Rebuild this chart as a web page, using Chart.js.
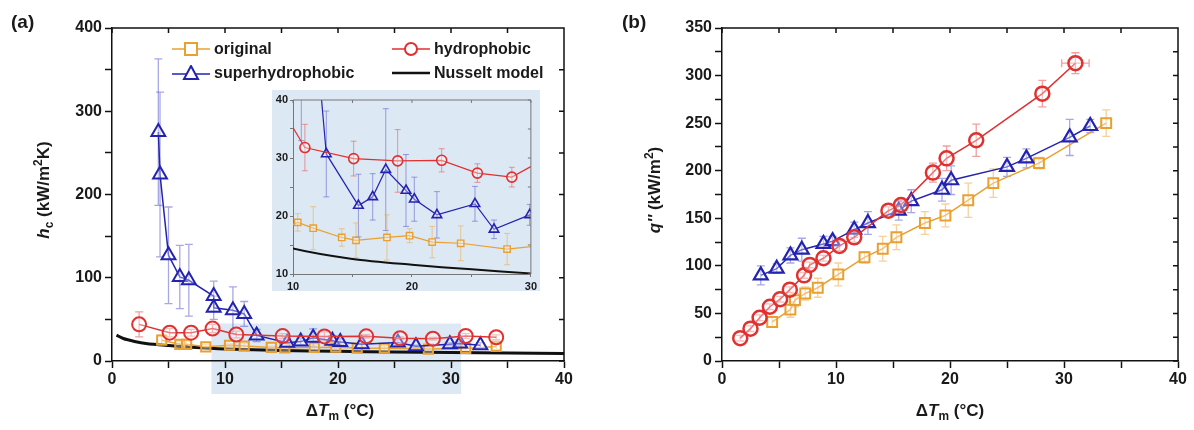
<!DOCTYPE html>
<html>
<head>
<meta charset="utf-8">
<script src="https://cdn.jsdelivr.net/npm/chart.js@4/dist/chart.umd.min.js"></script>
<style>
  body { margin: 0; background: #fff; font-family: "Liberation Sans", Arial, sans-serif; }
  #wrap { position: relative; width: 1194px; height: 430px; overflow: hidden; }
  canvas { position: absolute; }
  .lbl { position: absolute; font-weight: bold; color: #1a1a1a; white-space: nowrap; }
  .lbl sub, .lbl sup { font-size: 70%; line-height: 0; }
  .ytitle { transform: translate(-50%, -50%) rotate(-90deg); font-size: 17px; }
  .xtitle { transform: translate(-50%, -50%); font-size: 17px; }
  .leg { position: absolute; font-weight: bold; font-size: 16px; color: #1a1a1a; display: flex; align-items: center; white-space: nowrap; }
  .leg svg { margin-right: 4px; }
</style>
</head>
<body>
<div id="wrap">
  <canvas id="chart_a" width="597" height="430" style="left:0;top:0"></canvas>
  <canvas id="chart_b" width="597" height="430" style="left:597px;top:0"></canvas>
  <canvas id="chart_inset" width="268" height="201" style="left:272px;top:90px;z-index:2"></canvas>

  <div class="lbl" style="left:11px;top:11px;font-size:19px">(a)</div>
  <div class="lbl" style="left:622px;top:11px;font-size:19px">(b)</div>

  <div class="lbl ytitle" style="left:44px;top:190px"><i>h</i><sub>c</sub> (kW/m<sup>2</sup>K)</div>
  <div class="lbl ytitle" style="left:655px;top:190px"><i>q''</i> (kW/m<sup>2</sup>)</div>
  <div class="lbl xtitle" style="left:340px;top:411px">Δ<i>T</i><sub>m</sub> (°C)</div>
  <div class="lbl xtitle" style="left:950px;top:411px">Δ<i>T</i><sub>m</sub> (°C)</div>

  <div class="leg" style="left:172px;top:40px">
    <svg width="38" height="16"><line x1="0" y1="8" x2="38" y2="8" stroke="#e9a030" stroke-width="1.5"/><rect x="13" y="2" width="12" height="12" fill="#fff" stroke="#e9a030" stroke-width="2"/></svg>original</div>
  <div class="leg" style="left:172px;top:64px">
    <svg width="38" height="16"><line x1="0" y1="9" x2="38" y2="9" stroke="#2323b0" stroke-width="1.5"/><polygon points="19,1 26,14 12,14" fill="#fff" stroke="#2323b0" stroke-width="2"/></svg>superhydrophobic</div>
  <div class="leg" style="left:392px;top:40px">
    <svg width="38" height="16"><line x1="0" y1="8" x2="38" y2="8" stroke="#e03030" stroke-width="1.5"/><circle cx="19" cy="8" r="6" fill="#fff" stroke="#e03030" stroke-width="2"/></svg>hydrophobic</div>
  <div class="leg" style="left:392px;top:64px">
    <svg width="38" height="16"><line x1="0" y1="8" x2="38" y2="8" stroke="#111" stroke-width="2.5"/></svg>Nusselt model</div>
</div>

<script>
// ---- panel (a): condensation heat transfer coefficient h_c vs ΔT_m ----
const aOrigX  = [4.4, 6.0, 6.6, 8.3, 10.4, 11.7, 14.1, 15.3, 17.9, 19.8, 21.7, 24.1, 28.0, 31.3, 34.0];
const aOrigY  = [25, 20, 20, 17, 18.9, 17.9, 16.3, 15.8, 16.3, 16.6, 15.5, 15.3, 14.3, 15.0, 17.5];
const aOrigE  = [6, 4, 4, 3, 1.5, 3.7, 1.5, 3, 3.9, 1.2, 2.7, 3, 2.7, 3, 4];

const aHydroX = [2.4, 5.1, 7.0, 8.9, 11.0, 15.1, 18.8, 22.5, 25.5, 28.4, 31.3, 34.0];
const aHydroY = [44, 34, 34, 39, 31.8, 29.9, 29.5, 29.6, 27.4, 26.7, 30, 28.5];
const aHydroE = [15, 5, 4, 5, 4, 3, 5.4, 2, 1.6, 1.7, 3, 3];

const aSuperX = [4.1, 4.25, 5.0, 6.0, 6.8, 9.0, 9.0, 10.7, 11.7, 12.8, 15.5, 16.7, 17.8, 19.5, 20.2, 22.1, 25.3, 26.9, 29.9, 30.8, 32.6];
const aSuperY = [275, 224, 127, 101, 97, 78, 64, 61, 56.5, 30.7, 21.8, 23.3, 28, 24.4, 22.9, 20.2, 22.1, 17.7, 20.2, 21, 19];
const aSuperE = [88, 99, 58, 38, 43, 18, 14, 28, 15, 7.4, 5.4, 4, 10.5, 6.2, 3.8, 4, 3, 1.6, 1.8, 2, 3];

const nuX = [0.4, 1, 2, 3, 5, 7, 10, 15, 20, 25, 30, 35, 40];
const nuY = [31, 27, 23.5, 21, 18.5, 16.5, 14.4, 12.6, 11.6, 10.8, 10.1, 9.5, 9.0];

// ---- panel (b): heat flux q'' vs ΔT_m ----
const bOrigX  = [4.4, 6.0, 6.4, 7.3, 8.4, 10.2, 12.5, 14.1, 15.3, 17.8, 19.6, 21.6, 23.8, 27.8, 33.7];
const bOrigY  = [41, 54, 64, 71, 77, 91, 109, 118, 130, 145, 153, 169, 187, 208, 250];
const bOrigE  = [5, 8, 7, 7, 10, 12, 6, 13, 13, 12, 12, 18, 15, 6, 14];

const bHydroX = [1.6, 2.5, 3.3, 4.2, 5.1, 5.95, 7.2, 7.7, 8.9, 10.3, 11.6, 14.6, 15.7, 18.5, 19.7, 22.3, 28.1, 31.0];
const bHydroY = [24, 34, 45.5, 57, 65, 75, 90, 101, 108, 121, 130, 158, 164, 198, 213, 232, 281, 313];
const bHydroE = [3, 3, 3, 3, 3, 3, 3, 3, 3, 5, 5, 4, 5, 10, 13, 17, 14, 11];
const bHydroXE = [0, 0, 0, 0, 0, 0, 0, 0, 0, 0, 0, 0, 0, 0, 0, 0, 0, 1.2];

const bSuperX = [3.4, 4.8, 6.0, 7.0, 8.9, 9.7, 11.6, 12.8, 15.5, 16.6, 19.3, 20.1, 25.0, 26.7, 30.5, 32.3];
const bSuperY = [90, 97, 111, 117, 123, 126, 138, 145, 158, 168, 180, 190, 204, 213, 235, 247];
const bSuperE = [10, 5, 8, 12, 8, 5, 8, 12, 10, 12, 12, 15, 10, 10, 19, 7];

const ORANGE = "#e9a030", RED = "#e03030", BLUE = "#2323b0";
const ORANGE_ERR = "rgba(236,170,70,0.55)", RED_ERR = "rgba(230,80,80,0.55)", BLUE_ERR = "rgba(60,60,200,0.45)";
const SHADE = "#dce8f4";
const FONT = "'Liberation Sans', Arial, sans-serif";

const pts = (xs, ys) => xs.map((x, i) => ({ x, y: ys[i] }));

// vertical (and optional horizontal) error bars, drawn under the markers
const errorBars = {
  id: "errorBars",
  beforeDatasetsDraw(chart, args, opts) {
    const { ctx, chartArea: a, scales: { x, y } } = chart;
    ctx.save();
    ctx.beginPath(); ctx.rect(a.left, a.top, a.width, a.height); ctx.clip();
    chart.data.datasets.forEach((ds) => {
      if (!ds.yErr) return;
      ctx.strokeStyle = ds.errColor;
      ctx.lineWidth = opts.width || 1.2;
      const cap = opts.cap || 4;
      ds.data.forEach((p, i) => {
        const px = x.getPixelForValue(p.x), py = y.getPixelForValue(p.y);
        const y1 = y.getPixelForValue(p.y + ds.yErr[i]), y2 = y.getPixelForValue(p.y - ds.yErr[i]);
        ctx.beginPath();
        ctx.moveTo(px, y1); ctx.lineTo(px, y2);
        ctx.moveTo(px - cap, y1); ctx.lineTo(px + cap, y1);
        ctx.moveTo(px - cap, y2); ctx.lineTo(px + cap, y2);
        if (ds.xErr && ds.xErr[i]) {
          const x1 = x.getPixelForValue(p.x - ds.xErr[i]), x2 = x.getPixelForValue(p.x + ds.xErr[i]);
          ctx.moveTo(x1, py); ctx.lineTo(x2, py);
          ctx.moveTo(x1, py - cap); ctx.lineTo(x1, py + cap);
          ctx.moveTo(x2, py - cap); ctx.lineTo(x2, py + cap);
        }
        ctx.stroke();
      });
    });
    ctx.restore();
  },
};

// top / right frame with inward ticks
const frame = {
  id: "frame",
  afterDatasetsDraw(chart, args, opts) {
    const { ctx, chartArea: a, scales: { x, y } } = chart;
    ctx.save();
    ctx.strokeStyle = opts.color || "#111";
    ctx.lineWidth = opts.width || 1.5;
    ctx.beginPath();
    ctx.moveTo(a.left, a.top); ctx.lineTo(a.right, a.top); ctx.lineTo(a.right, a.bottom);
    const len = opts.len || 5;
    x.ticks.forEach((t) => { const px = x.getPixelForValue(t.value); ctx.moveTo(px, a.top); ctx.lineTo(px, a.top + len); });
    y.ticks.forEach((t) => { const py = y.getPixelForValue(t.value); ctx.moveTo(a.right, py); ctx.lineTo(a.right - len, py); });
    ctx.stroke();
    ctx.restore();
  },
};

// background + highlighted zoom window in panel (a)
const background = {
  id: "background",
  beforeDraw(chart, args, opts) {
    const { ctx, width, height, scales: { x, y } } = chart;
    ctx.save();
    ctx.fillStyle = opts.color || "#fff";
    ctx.fillRect(0, 0, width, height);
    if (opts.zoomX) {
      const l = x.getPixelForValue(opts.zoomX[0]), r = x.getPixelForValue(opts.zoomX[1]);
      const t = y.getPixelForValue(opts.zoomTop);
      ctx.fillStyle = SHADE;
      ctx.fillRect(l, t, r - l, opts.zoomBottomPx - t);
    }
    ctx.restore();
  },
};

function series(label, xs, ys, errs, color, errColor, style, radius, extra) {
  return Object.assign({
    label, data: pts(xs, ys), yErr: errs, errColor,
    showLine: true, borderColor: color, borderWidth: 1.5,
    pointStyle: style, pointRadius: radius,
    pointBorderColor: color, pointBackgroundColor: "rgba(255,255,255,0.35)", pointBorderWidth: 2,
  }, extra || {});
}

function axes(xMax, yMax, yStep, yLabelStep, fontSize, xWidthFix, yWidthFix, tickLen) {
  const font = { family: FONT, size: fontSize, weight: "bold" };
  return {
    x: {
      type: "linear", min: xMax[0], max: xMax[1],
      border: { color: "#111", width: 1.5 },
      grid: { drawOnChartArea: false, tickLength: tickLen, tickColor: "#111", tickWidth: 1.5 },
      ticks: { stepSize: 5, color: "#1a1a1a", font, padding: 2, maxRotation: 0,
        callback: (v) => (v % 10 === 0 ? v : "") },
      afterFit: (s) => { s.height = xWidthFix; },
    },
    y: {
      type: "linear", min: yMax[0], max: yMax[1],
      border: { color: "#111", width: 1.5 },
      grid: { drawOnChartArea: false, tickLength: tickLen, tickColor: "#111", tickWidth: 1.5 },
      ticks: { stepSize: yStep, color: "#1a1a1a", font, padding: 3,
        callback: (v) => (v % yLabelStep === 0 ? v : "") },
      afterFit: (s) => { s.width = yWidthFix; },
    },
  };
}

// ---- chart (a) ----
new Chart(document.getElementById("chart_a"), {
  type: "scatter",
  data: {
    datasets: [
      series("hydrophobic", aHydroX, aHydroY, aHydroE, RED, RED_ERR, "circle", 7),
      series("superhydrophobic", aSuperX, aSuperY, aSuperE, BLUE, BLUE_ERR, "triangle", 8),
      series("original", aOrigX, aOrigY, aOrigE, ORANGE, ORANGE_ERR, "rect", 6.5),
      { label: "Nusselt model", data: pts(nuX, nuY), showLine: true, borderColor: "#111", borderWidth: 3, pointRadius: 0, tension: 0.3 },
    ],
  },
  options: {
    responsive: false, animation: false,
    layout: { padding: { left: 0, top: 28, right: 33, bottom: 0 } },
    plugins: {
      legend: { display: false }, tooltip: { enabled: false },
      errorBars: { cap: 4, width: 1.3 },
      frame: { len: 5 },
      background: { zoomX: [8.8, 30.9], zoomTop: 45, zoomBottomPx: 394 },
    },
    scales: axes([0, 40], [0, 400], 50, 100, 16, 69, 112, 7),
  },
  plugins: [background, errorBars, frame],
});

// ---- inset of (a) ----
new Chart(document.getElementById("chart_inset"), {
  type: "scatter",
  data: {
    datasets: [
      series("hydrophobic", aHydroX, aHydroY, aHydroE, RED, RED_ERR, "circle", 5, { borderWidth: 1.2, pointBorderWidth: 1.6 }),
      series("superhydrophobic", aSuperX, aSuperY, aSuperE, BLUE, BLUE_ERR, "triangle", 5.5, { borderWidth: 1.2, pointBorderWidth: 1.6 }),
      series("original", aOrigX, aOrigY, aOrigE, ORANGE, ORANGE_ERR, "rect", 4.5, { borderWidth: 1.2, pointBorderWidth: 1.4 }),
      { label: "Nusselt model", data: pts(nuX, nuY), showLine: true, borderColor: "#111", borderWidth: 2, pointRadius: 0, tension: 0.3 },
    ],
  },
  options: {
    responsive: false, animation: false,
    layout: { padding: { left: 0, top: 10, right: 8, bottom: 0 } },
    plugins: {
      legend: { display: false }, tooltip: { enabled: false },
      errorBars: { cap: 3, width: 1 },
      frame: { len: 3, width: 1, color: "#777" },
      background: { color: SHADE },
    },
    scales: (() => {
      const s = axes([10, 30], [10, 40], 5, 10, 11, 17, 21, 3);
      s.x.border = { color: "#777", width: 1 }; s.y.border = { color: "#777", width: 1 };
      s.x.grid.tickColor = "#777"; s.y.grid.tickColor = "#777";
      s.x.grid.tickWidth = 1; s.y.grid.tickWidth = 1;
      s.x.ticks.padding = 3; s.y.ticks.padding = 2;
      return s;
    })(),
  },
  plugins: [background, errorBars, frame],
});

// ---- chart (b) ----
new Chart(document.getElementById("chart_b"), {
  type: "scatter",
  data: {
    datasets: [
      series("hydrophobic", bHydroX, bHydroY, bHydroE, RED, RED_ERR, "circle", 7, { xErr: bHydroXE, pointBorderWidth: 2.5 }),
      series("superhydrophobic", bSuperX, bSuperY, bSuperE, BLUE, BLUE_ERR, "triangle", 8, { pointBorderWidth: 2.2 }),
      series("original", bOrigX, bOrigY, bOrigE, ORANGE, ORANGE_ERR, "rect", 7, { pointBorderWidth: 2 }),
    ],
  },
  options: {
    responsive: false, animation: false,
    layout: { padding: { left: 0, top: 28, right: 16, bottom: 0 } },
    plugins: {
      legend: { display: false }, tooltip: { enabled: false },
      errorBars: { cap: 4, width: 1.3 },
      frame: { len: 5 },
      background: {},
    },
    scales: axes([0, 40], [0, 350], 25, 50, 16, 69, 125, 7),
  },
  plugins: [background, errorBars, frame],
});
</script>
</body>
</html>
